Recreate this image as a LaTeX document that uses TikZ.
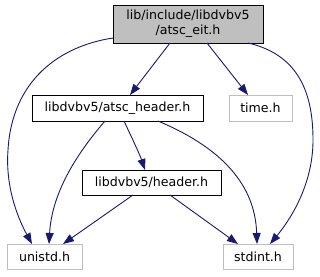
\documentclass[tikz,border=0pt]{standalone}
\usepackage{fontspec}
\setmainfont{DejaVu Sans}
\usetikzlibrary{arrows.meta}
\definecolor{edgeblue}{HTML}{191970}
\definecolor{nodegray}{HTML}{BFBFBF}
\tikzset{
  box/.style={rectangle, draw=black, line width=0.9pt, inner sep=0pt, outer sep=0pt,
    font=\fontsize{12.6}{15}\selectfont, align=center, text=black},
  mainbox/.style={box, fill=nodegray},
  extbox/.style={box, draw=nodegray},
  dep/.style={draw=edgeblue, line width=0.9pt, -{Triangle[length=11pt,width=8pt]}, fill=none},
}
\begin{document}
\begin{tikzpicture}[x=1pt,y=-1pt]
\useasboundingbox (0,0) rectangle (320,276);
\node[mainbox, minimum width=150pt, minimum height=38pt] (top) at (188,24) {lib/include/libdvbv5\\/atsc\_eit.h};
\node[box, fill=white, minimum width=171pt, minimum height=26pt] (atsc) at (117.5,108) {libdvbv5/atsc\_header.h};
\node[extbox, minimum width=63pt, minimum height=26pt] (time) at (260.5,108) {time.h};
\node[box, fill=white, minimum width=139pt, minimum height=25pt] (hdr) at (151.5,182.5) {libdvbv5/header.h};
\node[extbox, minimum width=75pt, minimum height=25pt] (unistd) at (44.5,256.5) {unistd.h};
\node[extbox, minimum width=70pt, minimum height=25pt] (stdint) at (258,256.5) {stdint.h};

\draw[dep] ([xshift=57pt]top.south west) -- ([xshift=98pt]atsc.north west);
\draw[dep] ([xshift=94pt]top.south west) -- ([xshift=19pt]time.north west);
\draw[dep] ([yshift=5pt]top.south west) .. controls +(-53,8) and (12,80) .. (8,150)
  .. controls (5,190) and (20,222) .. ([xshift=25pt]unistd.north west);
\draw[dep] ([xshift=135pt]top.south west) .. controls +(52,12) and (313,95) .. (313,140)
  .. controls (313,185) and (290,220) .. ([xshift=47pt]stdint.north west);
\draw[dep] ([xshift=73pt]atsc.south west) .. controls +(-25,29) and (52,190) .. ([xshift=42pt]unistd.north west);
\draw[dep] ([xshift=92pt]atsc.south west) .. controls +(7,15) and (140,155) .. ([xshift=63pt]hdr.north west);
\draw[dep] ([xshift=126pt]atsc.south west) .. controls +(57,24) and (255,180) .. ([xshift=34pt]stdint.north west);
\draw[dep] ([xshift=51pt]hdr.south west) -- ([xshift=56pt]unistd.north west);
\draw[dep] ([xshift=88pt]hdr.south west) -- ([xshift=15pt]stdint.north west);
\end{tikzpicture}
\end{document}
